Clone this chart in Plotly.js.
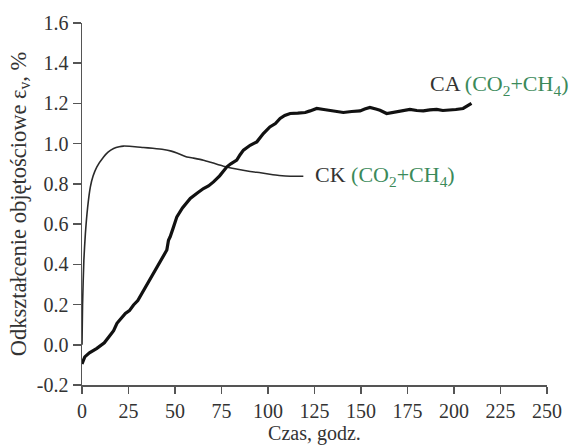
<!DOCTYPE html>
<html>
<head>
<meta charset="utf-8">
<script src="https://cdn.plot.ly/plotly-3.0.1.min.js"></script>
<style>html,body{margin:0;padding:0;background:#fff;}#chart{width:575px;height:445px;}</style>
</head>
<body>
<div id="chart"></div>
<script>
// CK (thin curve)
const ckTime = [0, 0.3, 1, 1.8, 3, 4.5, 6, 8, 11.6, 14, 17, 20, 22.3, 27, 33, 38, 43.8, 48, 51, 56.4, 60, 65.3, 70, 76, 83, 90.4, 96, 101, 106, 112, 119];
const ckStrain = [0.0, 0.2, 0.42, 0.55, 0.68, 0.785, 0.84, 0.885, 0.934, 0.958, 0.976, 0.985, 0.988, 0.986, 0.981, 0.977, 0.971, 0.963, 0.954, 0.934, 0.928, 0.918, 0.905, 0.888, 0.874, 0.862, 0.855, 0.848, 0.842, 0.838, 0.838];

// CA (thick curve)
const caTime = [0, 1.5, 4, 8, 12, 15.2, 17, 18.8, 21, 23.3, 25.5, 27.7, 30, 32.2, 35, 38.5, 42, 45.6, 46.5, 47.4, 49, 51, 54, 58.2, 62, 65.3, 68, 70.7, 74, 77.9, 80, 83.2, 85, 86.8, 90.4, 94, 97.5, 101, 104, 106.5, 109, 111.9, 116, 120, 122.6, 126.2, 130, 133.3, 137, 140.5, 145, 149.5, 152, 154.8, 158, 160.2, 163.8, 167, 169.2, 173, 176.3, 180, 183.5, 187, 190.7, 194, 197.8, 201, 204.9, 207, 209.4];
const caStrain = [-0.095, -0.06, -0.04, -0.018, 0.01, 0.048, 0.07, 0.107, 0.13, 0.156, 0.17, 0.198, 0.22, 0.256, 0.3, 0.355, 0.41, 0.471, 0.52, 0.537, 0.58, 0.636, 0.68, 0.728, 0.755, 0.777, 0.79, 0.81, 0.84, 0.885, 0.9, 0.918, 0.945, 0.968, 0.992, 1.009, 1.05, 1.083, 1.1, 1.125, 1.14, 1.15, 1.152, 1.155, 1.163, 1.175, 1.17, 1.166, 1.158, 1.155, 1.16, 1.163, 1.172, 1.18, 1.172, 1.166, 1.15, 1.155, 1.158, 1.165, 1.17, 1.165, 1.163, 1.168, 1.17, 1.165, 1.166, 1.17, 1.175, 1.185, 1.2];

// Tick labels
const xTickVals = [0, 25, 50, 75, 100, 125, 150, 175, 200, 225, 250];
const xTickText = ["0", "25", "50", "75", "100", "125", "150", "175", "200", "225", "250"];
const yTickVals = [-0.2, 0.0, 0.2, 0.4, 0.6, 0.8, 1.0, 1.2, 1.4, 1.6];
const yTickText = ["-0.2", "0.0", "0.2", "0.4", "0.6", "0.8", "1.0", "1.2", "1.4", "1.6"];

const serif = "Liberation Serif";
const green = "#3b8a5a";
const txt = "#333";

const traces = [
  {x: ckTime, y: ckStrain, mode: "lines", line: {color: "#2a2a2a", width: 1.6, shape: "spline", smoothing: 0.6}, showlegend: false, hoverinfo: "skip"},
  {x: caTime, y: caStrain, mode: "lines", line: {color: "#111", width: 3.2}, showlegend: false, hoverinfo: "skip"}
];

const layout = {
  width: 575, height: 445,
  margin: {l: 82, r: 28, t: 23, b: 60, autoexpand: false},
  paper_bgcolor: "#fff", plot_bgcolor: "#fff",
  font: {family: serif, color: txt, size: 20},
  xaxis: {
    range: [0, 250], tickmode: "array", tickvals: xTickVals, ticktext: xTickText,
    showgrid: false, zeroline: false, showline: true, linecolor: "#555", linewidth: 1.5,
    ticks: "outside", ticklen: 7, tickwidth: 1.5, tickcolor: "#555",
    tickfont: {family: serif, size: 20, color: txt},
    title: {text: "Czas, godz.", font: {family: serif, size: 20, color: txt}, standoff: 6}
  },
  yaxis: {
    range: [-0.2, 1.6], tickmode: "array", tickvals: yTickVals, ticktext: yTickText,
    showgrid: false, zeroline: false, showline: true, linecolor: "#555", linewidth: 1.5,
    ticks: "outside", ticklen: 8, tickwidth: 1.5, tickcolor: "#555",
    tickfont: {family: serif, size: 20, color: txt},
    title: {text: "Odkształcenie objętościowe ε<sub>v</sub>, %", font: {family: serif, size: 22.5, color: txt}, standoff: 4}
  },
  annotations: [
    {x: 124, y: 0.838, xref: "x", yref: "y", xanchor: "left", yanchor: "middle", showarrow: false,
     text: "CK <span style='color:" + green + "'>(CO<sub>2</sub>+CH<sub>4</sub>)</span>", font: {family: serif, size: 22, color: txt}},
    {x: 186, y: 1.29, xref: "x", yref: "y", xanchor: "left", yanchor: "middle", showarrow: false,
     text: "CA <span style='color:" + green + "'>(CO<sub>2</sub>+CH<sub>4</sub>)</span>", font: {family: serif, size: 22, color: txt}}
  ]
};

Plotly.newPlot("chart", traces, layout, {staticPlot: true, displayModeBar: false});
</script>
</body>
</html>
